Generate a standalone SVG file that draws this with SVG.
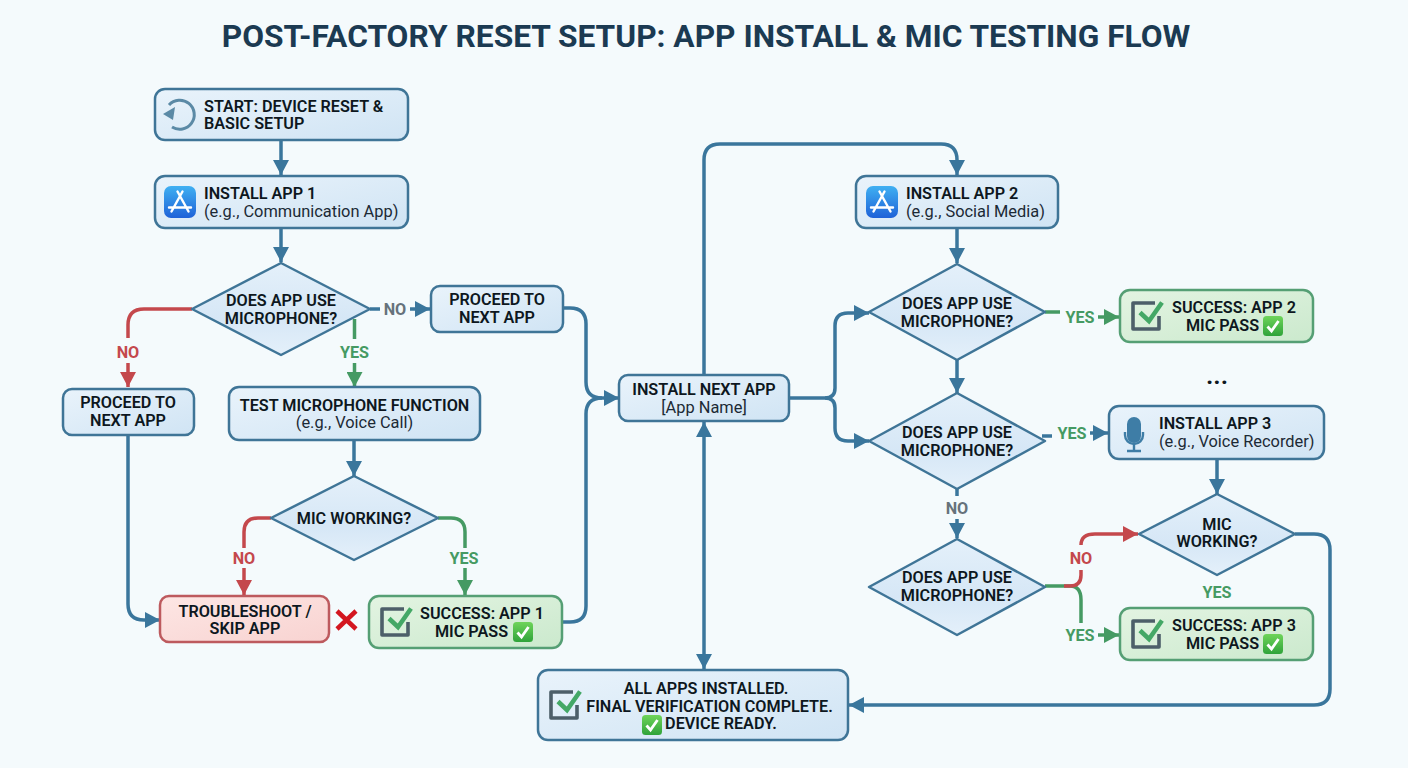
<svg xmlns="http://www.w3.org/2000/svg" width="1408" height="768" viewBox="0 0 1408 768">
<style>
text{font-family:Roboto,"Liberation Sans",sans-serif;text-anchor:middle;fill:#0d1720;font-size:16.2px;font-weight:600}
.l{text-anchor:start}
.sub{font-weight:400;fill:#1c2a35;font-size:16.4px}
.title{font-size:31.7px;font-weight:700;fill:#1b3a52}
.node{fill:url(#blue);stroke:#3f7597;stroke-width:2.5}
.dia{fill:url(#bluev);stroke:#3f7597;stroke-width:2.5;stroke-linejoin:round}
.ok{fill:url(#green);stroke:#559f74;stroke-width:2.5}
.bad{fill:url(#red);stroke:#bd5a5e;stroke-width:2.5}
.c{fill:none;stroke:#3a769c;stroke-width:3.5}
.cg{fill:none;stroke:#459a63;stroke-width:3.5}
.cr{fill:none;stroke:#c4484c;stroke-width:3.5}
.ly{fill:#459a63;font-weight:700}
.ln{fill:#c4484c;font-weight:700}
.lg{fill:#66727b;font-weight:700}
</style>
<defs>
<linearGradient id="blue" x1="0" y1="0" x2="1" y2="1"><stop offset="0" stop-color="#e9f3fb"/><stop offset="1" stop-color="#d0e4f4"/></linearGradient>
<linearGradient id="bluev" x1="0" y1="0" x2="0" y2="1"><stop offset="0" stop-color="#e4f0fa"/><stop offset="0.6" stop-color="#d6e7f6"/><stop offset="1" stop-color="#e4f0fa"/></linearGradient>
<linearGradient id="green" x1="0" y1="0" x2="1" y2="1"><stop offset="0" stop-color="#e3f4e2"/><stop offset="1" stop-color="#cbe9cd"/></linearGradient>
<linearGradient id="red" x1="0" y1="0" x2="1" y2="1"><stop offset="0" stop-color="#fde6e4"/><stop offset="1" stop-color="#f8d3d1"/></linearGradient>
<linearGradient id="app" x1="0" y1="0" x2="0" y2="1"><stop offset="0" stop-color="#3fb0f2"/><stop offset="1" stop-color="#1f62d8"/></linearGradient>
<linearGradient id="em" x1="0" y1="0" x2="0" y2="1"><stop offset="0" stop-color="#6fd45a"/><stop offset="1" stop-color="#2fa33a"/></linearGradient>
<marker id="ab" markerUnits="userSpaceOnUse" markerWidth="16" markerHeight="16" refX="15" refY="8" orient="auto-start-reverse"><path d="M0 0L15 8L0 16Z" fill="#3a769c"/></marker>
<marker id="ag" markerUnits="userSpaceOnUse" markerWidth="16" markerHeight="16" refX="15" refY="8" orient="auto"><path d="M0 0L15 8L0 16Z" fill="#459a63"/></marker>
<marker id="ar" markerUnits="userSpaceOnUse" markerWidth="16" markerHeight="16" refX="15" refY="8" orient="auto"><path d="M0 0L15 8L0 16Z" fill="#c4484c"/></marker>
<g id="appicon"><rect width="32" height="32" rx="7" fill="url(#app)"/><path d="M13.500 5.500L24.500 25.500M18.500 5.500L7.500 25.500M5 21.500H27" fill="none" stroke="#fff" stroke-width="2.4" stroke-linecap="round"/></g>
<g id="chk"><path d="M24 2H2V28H28V15" fill="none" stroke="#4d5f69" stroke-width="3.6" stroke-linejoin="round"/><path d="M9 11.500L18 20L31 1.500" fill="none" stroke="#44a866" stroke-width="4.5"/></g>
<g id="emo"><rect width="20" height="20" rx="3.5" fill="url(#em)"/><path d="M4.500 10.500L8.500 15L15.500 5" fill="none" stroke="#fff" stroke-width="2.8"/></g>
</defs>
<rect width="1408" height="768" fill="#f4fafc"/>
<text class="title" x="706" y="47">POST-FACTORY RESET SETUP: APP INSTALL &amp; MIC TESTING FLOW</text>
<g id="connectors">
<path class="c" marker-end="url(#ab)" d="M281 141V175"/>
<path class="c" marker-end="url(#ab)" d="M281 228V262"/>
<path class="c" d="M370 309H380"/>
<path class="c" marker-end="url(#ab)" d="M410 309H430"/>
<path class="c" marker-end="url(#ab)" d="M563 308H570Q586 308 586 324V382Q586 398 602 398H619"/>
<path class="c" d="M562 622H570Q586 622 586 606V414Q586 398 602 398"/>
<path class="cr" d="M192 309H144Q128 309 128 325V338"/>
<path class="cr" marker-end="url(#ar)" d="M128 363V387"/>
<path class="c" marker-end="url(#ab)" d="M128 435V604Q128 620 144 620H160"/>
<path class="cg" d="M354.500 319V339"/>
<path class="cg" marker-end="url(#ag)" d="M354.500 363V387"/>
<path class="c" marker-end="url(#ab)" d="M354 440V476"/>
<path class="cr" d="M271 518H258Q244 518 244 532V548"/>
<path class="cr" marker-end="url(#ar)" d="M244 568V595"/>
<path class="cg" d="M438 518H451Q465 518 465 532V548"/>
<path class="cg" marker-end="url(#ag)" d="M465 568V595"/>
<path class="c" marker-end="url(#ab)" d="M704 375V160Q704 144 720 144H941Q957 144 957 160V175"/>
<path class="c" marker-start="url(#ab)" marker-end="url(#ab)" d="M704 422V669"/>
<path class="c" marker-end="url(#ab)" d="M789 398H825Q835 398 835 388V326Q835 313 848 313H869"/>
<path class="c" marker-end="url(#ab)" d="M825 398Q835 398 835 408V428Q835 441 848 441H869"/>
<path class="c" marker-end="url(#ab)" d="M957 228V263"/>
<path class="c" marker-end="url(#ab)" d="M957 360V393"/>
<path class="cg" d="M1045 312H1060"/>
<path class="cg" marker-end="url(#ag)" d="M1098 317H1119"/>
<path class="c" d="M1042 436H1052"/>
<path class="c" marker-end="url(#ab)" d="M1090 433H1108"/>
<path class="c" marker-end="url(#ab)" d="M1217 459V494"/>
<path class="c" marker-end="url(#ab)" d="M1295 534H1314Q1330 534 1330 550V689Q1330 705 1314 705H849"/>
<path class="c" d="M957 489V496"/>
<path class="c" marker-end="url(#ab)" d="M957 519V538"/>
<path class="cg" d="M1045 586H1070Q1081 586 1081 600V623"/>
<path class="cr" d="M1064 586H1070Q1081 586 1081 575V570"/>
<path class="cr" marker-end="url(#ar)" d="M1081 545Q1081 534 1095 534H1138"/>
<path class="cg" marker-end="url(#ag)" d="M1098 635H1119"/>
</g>
<g id="labels">
<text class="lg" x="395" y="315">NO</text>
<text class="ln" x="128" y="357.500">NO</text>
<text class="ly" x="354.500" y="357.500">YES</text>
<text class="ln" x="244" y="564">NO</text>
<text class="ly" x="464" y="564">YES</text>
<text class="ly" x="1080" y="323">YES</text>
<text class="ly" x="1072" y="439">YES</text>
<text class="lg" x="957" y="514">NO</text>
<text class="ln" x="1081" y="564">NO</text>
<text class="ly" x="1080" y="641">YES</text>
<text class="ly" x="1217" y="598">YES</text>
<text x="1217" y="384" style="font-size:26px">...</text>
</g>
<g id="start"><rect class="node" x="155" y="89" width="253" height="51" rx="10"/>
<path d="M169 105A14.500 14.500 0 1 1 172 127" fill="none" stroke="#5b8aa6" stroke-width="3"/><path d="M163 114L175 107L173 120Z" fill="#5b8aa6"/>
<text class="l" x="204" y="112">START: DEVICE RESET &amp;</text><text class="l" x="204" y="129">BASIC SETUP</text></g>
<g id="install1"><rect class="node" x="155" y="176" width="253" height="52" rx="10"/><use href="#appicon" x="164" y="186"/>
<text class="l" x="204" y="199">INSTALL APP 1</text><text class="l sub" x="204" y="217">(e.g., Communication App)</text></g>
<g id="d1"><path class="dia" d="M281 263L370 309L281 355L192 309Z"/><text x="281" y="306">DOES APP USE</text><text x="281" y="324">MICROPHONE?</text></g>
<g id="proceed1"><rect class="node" x="431" y="286" width="132" height="46" rx="9"/><text x="497" y="305">PROCEED TO</text><text x="497" y="323">NEXT APP</text></g>
<g id="proceed2"><rect class="node" x="63" y="389" width="131" height="46" rx="9"/><text x="128" y="408">PROCEED TO</text><text x="128" y="426">NEXT APP</text></g>
<g id="test"><rect class="node" x="229" y="387" width="251" height="53" rx="10"/><text x="354.500" y="411">TEST MICROPHONE FUNCTION</text><text class="sub" x="354.500" y="428">(e.g., Voice Call)</text></g>
<g id="d2"><path class="dia" d="M354 476L438 518L354 560L271 518Z"/><text x="354" y="524">MIC WORKING?</text></g>
<g id="trouble"><rect class="bad" x="160" y="596" width="169" height="46" rx="9"/><text x="245" y="617">TROUBLESHOOT /</text><text x="245" y="634">SKIP APP</text></g>
<g id="xmark"><path d="M337 611L356 629M356 611L337 629" fill="none" stroke="#d3161f" stroke-width="4.5"/></g>
<g id="success1"><rect class="ok" x="369" y="596" width="193" height="52" rx="10"/><use href="#chk" x="380" y="607"/><text x="482" y="619">SUCCESS: APP 1</text><text x="471.500" y="637">MIC PASS</text><use href="#emo" x="513" y="622"/></g>
<g id="next"><rect class="node" x="619" y="375" width="170" height="46" rx="9"/><text x="704" y="395">INSTALL NEXT APP</text><text class="sub" x="704" y="413">[App Name]</text></g>
<g id="final"><rect class="node" x="538" y="670" width="310" height="70" rx="10"/><use href="#chk" x="549" y="690"/><text x="706" y="694">ALL APPS INSTALLED.</text><text x="709.500" y="711.500">FINAL VERIFICATION COMPLETE.</text><text x="721" y="729">DEVICE READY.</text><use href="#emo" x="642" y="715"/></g>
<g id="install2"><rect class="node" x="856" y="176" width="202" height="52" rx="10"/><use href="#appicon" x="866" y="186"/><text class="l" x="906" y="199">INSTALL APP 2</text><text class="l sub" x="906" y="217">(e.g., Social Media)</text></g>
<g id="d3"><path class="dia" d="M957 264L1045 312L957 360L869 312Z"/><text x="957" y="309">DOES APP USE</text><text x="957" y="327">MICROPHONE?</text></g>
<g id="success2"><rect class="ok" x="1120" y="290" width="193" height="52" rx="10"/><use href="#chk" x="1131" y="301"/><text x="1234" y="313">SUCCESS: APP 2</text><text x="1222.500" y="331">MIC PASS</text><use href="#emo" x="1263" y="316"/></g>
<g id="d4"><path class="dia" d="M957 393L1045 441L957 489L869 441Z"/><text x="957" y="438">DOES APP USE</text><text x="957" y="456">MICROPHONE?</text></g>
<g id="install3"><rect class="node" x="1109" y="406" width="215" height="53" rx="10"/>
<rect x="1127" y="417" width="14" height="26" rx="7" fill="#3e7da6"/><path d="M1125 432V435A9 9 0 0 0 1143 435V432M1134 444V451M1127 451H1141" fill="none" stroke="#3e7da6" stroke-width="2.4"/>
<text class="l" x="1159" y="429">INSTALL APP 3</text><text class="l sub" x="1159" y="447">(e.g., Voice Recorder)</text></g>
<g id="d5"><path class="dia" d="M1217 494L1295 534L1217 575L1139 534Z"/><text x="1217" y="530">MIC</text><text x="1217" y="547">WORKING?</text></g>
<g id="d6"><path class="dia" d="M957 539L1045 587L957 635L869 587Z"/><text x="957" y="583">DOES APP USE</text><text x="957" y="601">MICROPHONE?</text></g>
<g id="success3"><rect class="ok" x="1120" y="608" width="193" height="52" rx="10"/><use href="#chk" x="1131" y="619"/><text x="1234" y="631">SUCCESS: APP 3</text><text x="1222.500" y="649">MIC PASS</text><use href="#emo" x="1263" y="634"/></g>
</svg>
